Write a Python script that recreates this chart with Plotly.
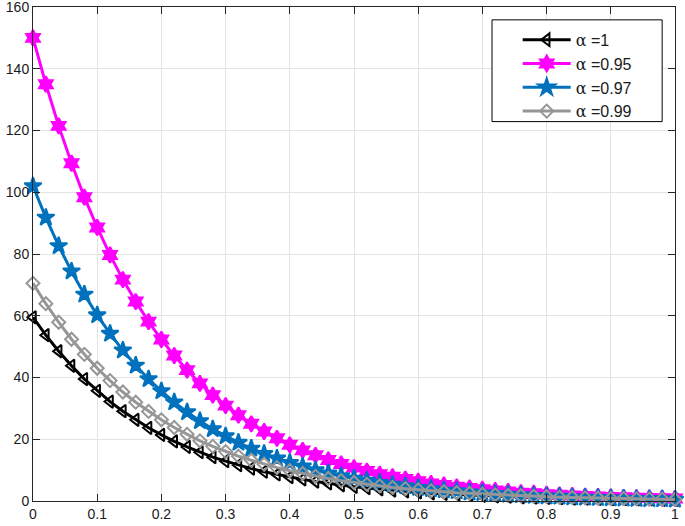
import plotly.graph_objects as go

x_vals = [round(0.02 * i, 2) for i in range(51)]

alpha_1 = [59.5, 53.7, 48.5, 43.8, 39.5, 35.7, 32.2, 29.1, 26.3, 23.7,
           21.4, 19.3, 17.5, 15.8, 14.2, 12.9, 11.6, 10.5, 9.5, 8.6,
           7.7, 7.0, 6.3, 5.7, 5.1, 4.6, 4.2, 3.8, 3.4, 3.1,
           2.8, 2.5, 2.3, 2.1, 1.9, 1.7, 1.5, 1.4, 1.2, 1.1,
           1.0, 0.9, 0.8, 0.8, 0.7, 0.6, 0.6, 0.5, 0.5, 0.4, 0.4]

alpha_095 = [150.0, 135.0, 121.5, 109.4, 98.4, 88.6, 79.7, 71.7, 64.6, 58.1,
             52.3, 47.1, 42.4, 38.1, 34.3, 30.9, 27.8, 25.0, 22.5, 20.3,
             18.2, 16.4, 14.8, 13.3, 12.0, 10.8, 9.7, 8.7, 7.9, 7.1,
             6.4, 5.7, 5.2, 4.6, 4.2, 3.8, 3.4, 3.1, 2.7, 2.5,
             2.2, 2.0, 1.8, 1.6, 1.5, 1.3, 1.2, 1.1, 1.0, 0.9, 0.8]

alpha_097 = [102.0, 91.8, 82.6, 74.4, 66.9, 60.2, 54.2, 48.8, 43.9, 39.5,
             35.6, 32.0, 28.8, 25.9, 23.3, 21.0, 18.9, 17.0, 15.3, 13.8,
             12.4, 11.2, 10.0, 9.0, 8.1, 7.3, 6.6, 5.9, 5.3, 4.8,
             4.3, 3.9, 3.5, 3.2, 2.8, 2.6, 2.3, 2.1, 1.9, 1.7,
             1.5, 1.4, 1.2, 1.1, 1.0, 0.9, 0.8, 0.7, 0.6, 0.6, 0.5]

alpha_099 = [70.5, 63.9, 57.9, 52.4, 47.5, 43.0, 39.0, 35.3, 32.0, 29.0,
             26.3, 23.8, 21.6, 19.5, 17.7, 16.0, 14.5, 13.2, 11.9, 10.8,
             9.8, 8.9, 8.0, 7.3, 6.6, 6.0, 5.4, 4.9, 4.4, 4.0,
             3.6, 3.3, 3.0, 2.7, 2.5, 2.2, 2.0, 1.8, 1.7, 1.5,
             1.4, 1.2, 1.1, 1.0, 0.9, 0.8, 0.8, 0.7, 0.6, 0.6, 0.5]

alpha_labels = ["1", "0.95", "0.97", "0.99"]
x_ticks = [0, 0.1, 0.2, 0.3, 0.4, 0.5, 0.6, 0.7, 0.8, 0.9, 1]
x_tick_labels = ["0", "0.1", "0.2", "0.3", "0.4", "0.5", "0.6", "0.7", "0.8", "0.9", "1"]
y_ticks = [0, 20, 40, 60, 80, 100, 120, 140, 160]

styles = [
    dict(color="#000000", symbol="triangle-left-open", size=11, lw=3),
    dict(color="#FF00FF", symbol="hexagram", size=12, lw=3),
    dict(color="#0072BD", symbol="star", size=13, lw=3),
    dict(color="#969696", symbol="diamond-open", size=10, lw=3),
]

FONT = "Liberation Sans, Arial, sans-serif"

fig = go.Figure()
for i, (lab, ys, st) in enumerate(zip(alpha_labels, [alpha_1, alpha_095, alpha_097, alpha_099], styles)):
    name = "<span style='font-family:DejaVu Serif'>α</span> =" + lab
    fig.add_trace(go.Scatter(
        x=x_vals, y=ys, name=name, mode="lines+markers",
        line=dict(color=st["color"], width=st["lw"]),
        marker=dict(symbol=st["symbol"], size=st["size"], color=st["color"],
                    line=dict(color=st["color"], width=2)),
        cliponaxis=False,
    ))

axis_common = dict(
    showgrid=True, gridcolor="#e3e3e3", gridwidth=1,
    showline=True, linecolor="#262626", linewidth=1, mirror="ticks",
    ticks="inside", ticklen=7, tickcolor="#262626",
    tickfont=dict(family=FONT, size=14, color="#1a1a1a"),
    zeroline=False, automargin=False, ticklabeloverflow="allow",
)

# legend frame (MATLAB-style box with wide left padding)
fig.add_shape(type="rect", xref="paper", yref="paper",
              x0=0.715, x1=0.980, y0=0.768, y1=0.974,
              fillcolor="white", line=dict(color="#000000", width=1), layer="above")

fig.update_layout(
    width=685, height=526,
    margin=dict(l=33, r=10, t=7, b=25),
    paper_bgcolor="white", plot_bgcolor="white",
    xaxis=dict(range=[0, 1], tickvals=x_ticks, ticktext=x_tick_labels, **axis_common),
    yaxis=dict(range=[0, 160], tickvals=y_ticks, **axis_common),
    legend=dict(
        x=0.755, y=0.968, xanchor="left", yanchor="top",
        bgcolor="rgba(0,0,0,0)", borderwidth=0,
        font=dict(family=FONT, size=16, color="#1a1a1a"),
        tracegroupgap=0, itemwidth=48,
    ),
    showlegend=True,
)

fig.write_html("out.html", config={"displayModeBar": False},
               post_script="document.body.style.margin='0';document.body.style.padding='0';")
